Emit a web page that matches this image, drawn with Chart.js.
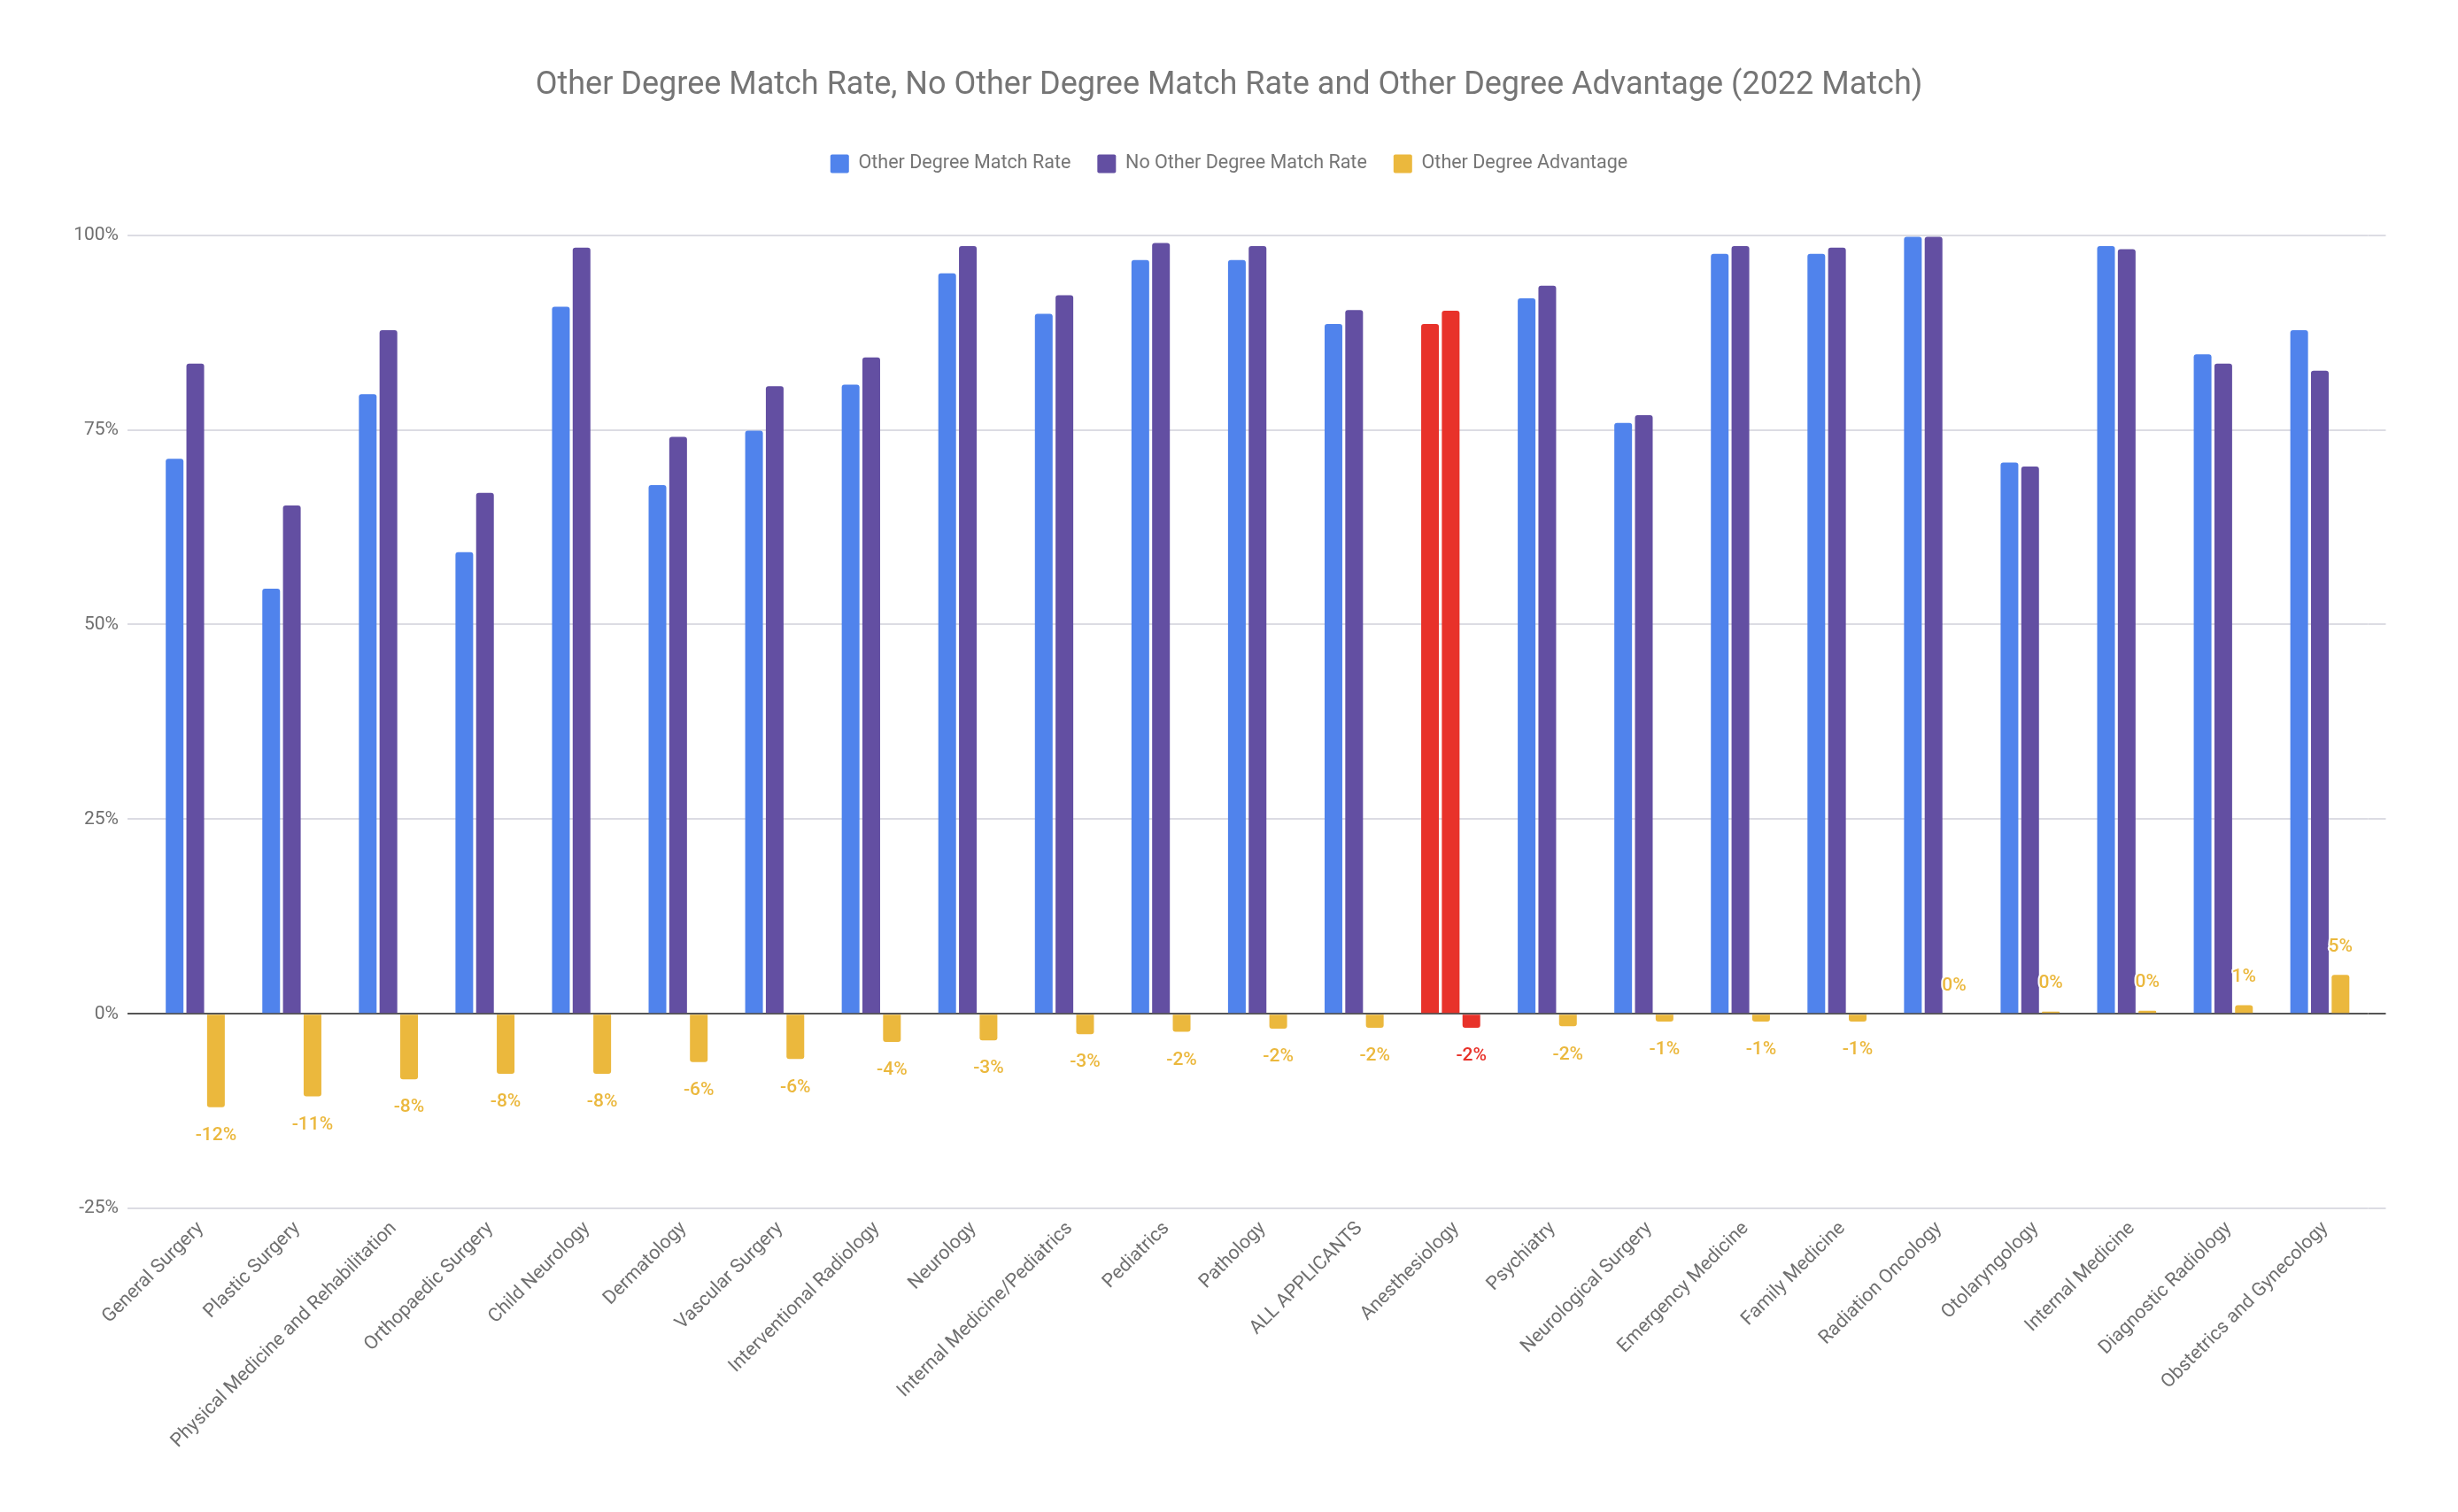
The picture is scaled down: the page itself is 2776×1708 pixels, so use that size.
<!DOCTYPE html>
<html>
<head>
<meta charset="utf-8">
<script src="https://cdn.jsdelivr.net/npm/chart.js@4.4.0/dist/chart.umd.min.js"></script>
<style>
  html, body { margin: 0; padding: 0; background: #fff; }
  #wrap { width: 2776px; height: 1708px; }
</style>
</head>
<body>
<div id="wrap"><canvas id="chart" width="2776" height="1708"></canvas></div>
<script>
const categories = [
  "General Surgery", "Plastic Surgery", "Physical Medicine and Rehabilitation",
  "Orthopaedic Surgery", "Child Neurology", "Dermatology", "Vascular Surgery",
  "Interventional Radiology", "Neurology", "Internal Medicine/Pediatrics",
  "Pediatrics", "Pathology", "ALL APPLICANTS", "Anesthesiology", "Psychiatry",
  "Neurological Surgery", "Emergency Medicine", "Family Medicine",
  "Radiation Oncology", "Otolaryngology", "Internal Medicine",
  "Diagnostic Radiology", "Obstetrics and Gynecology"
];

const otherDegreeRate = [
  71.3, 54.6, 79.6, 59.3, 90.8, 67.9, 74.9, 80.8, 95.1, 89.9, 96.8, 96.8,
  88.6, 88.6, 91.9, 75.9, 97.6, 97.6, 99.8, 70.8, 98.6, 84.7, 87.8
];

const noOtherDegreeRate = [
  83.5, 65.3, 87.8, 66.9, 98.4, 74.1, 80.6, 84.3, 98.6, 92.3, 99.0, 98.6,
  90.4, 90.3, 93.5, 76.9, 98.6, 98.4, 99.8, 70.3, 98.2, 83.5, 82.6
];

const otherDegreeAdvantage = [
  -12.0, -10.6, -8.4, -7.7, -7.7, -6.2, -5.8, -3.6, -3.4, -2.6, -2.3, -1.9,
  -1.8, -1.8, -1.6, -1.0, -1.0, -1.0, 0.0, 0.3, 0.4, 1.1, 5.0
];

const yTicks = [-25, 0, 25, 50, 75, 100];

const highlight = categories.indexOf("Anesthesiology");
const BLUE = "#5083ec", PURPLE = "#634fa2", GOLD = "#ebb83d", RED = "#e8322a";
const pick = (base) => (ctx) => ctx.dataIndex === highlight ? RED : base;

// labels on the advantage bars
const advantageLabels = {
  id: "advantageLabels",
  afterDatasetsDraw(chart) {
    const ctx = chart.ctx;
    const meta = chart.getDatasetMeta(2);
    ctx.save();
    ctx.font = "500 21px Roboto";
    ctx.textAlign = "center";
    ctx.textBaseline = "middle";
    ctx.lineJoin = "round";
    meta.data.forEach((bar, i) => {
      const v = otherDegreeAdvantage[i];
      const txt = Math.round(v) + "%";
      const y = v < 0 ? bar.y + 32 : bar.y - 32;
      ctx.strokeStyle = "#fff";
      ctx.lineWidth = 4;
      ctx.strokeText(txt, bar.x, y);
      ctx.fillStyle = i === highlight ? RED : GOLD;
      ctx.fillText(txt, bar.x, y);
    });
    ctx.restore();
  }
};

// gridlines run a little past the last category on the right
const gridTail = {
  id: "gridTail",
  beforeDatasetsDraw(chart) {
    const {ctx, chartArea, scales} = chart;
    ctx.save();
    yTicks.forEach(v => {
      const y = Math.round(scales.y.getPixelForValue(v));
      ctx.strokeStyle = v === 0 ? "#555" : "#dcdce3";
      ctx.lineWidth = 2;
      ctx.beginPath();
      ctx.moveTo(chartArea.right, y);
      ctx.lineTo(chartArea.right + 20, y);
      ctx.stroke();
    });
    ctx.restore();
  }
};

// extra room under the legend
const legendSpace = {
  id: "legendSpace",
  beforeInit(chart) {
    const fit = chart.legend.fit;
    chart.legend.fit = function () {
      fit.bind(chart.legend)();
      this.height += 60;
    };
  }
};

Chart.defaults.font.family = "Roboto";
Chart.defaults.color = "#6f6f6f";

new Chart(document.getElementById("chart").getContext("2d"), {
  type: "bar",
  data: {
    labels: categories,
    datasets: [
      { label: "Other Degree Match Rate", data: otherDegreeRate, backgroundColor: pick(BLUE) },
      { label: "No Other Degree Match Rate", data: noOtherDegreeRate, backgroundColor: pick(PURPLE) },
      { label: "Other Degree Advantage", data: otherDegreeAdvantage, backgroundColor: pick(GOLD) }
    ]
  },
  options: {
    responsive: false,
    animation: false,
    layout: { padding: { top: 0, left: 82, right: 82, bottom: 65 } },
    datasets: {
      bar: { categoryPercentage: 0.642, barPercentage: 0.857, borderRadius: 3, borderWidth: 0 }
    },
    scales: {
      x: {
        grid: { display: false },
        border: { display: false },
        ticks: {
          autoSkip: false, minRotation: 45, maxRotation: 45,
          padding: 2, labelOffset: 6,
          font: { size: 21.5 }, color: "#6f6f6f"
        }
      },
      y: {
        min: -25,
        max: 100,
        border: { display: false },
        grid: {
          color: c => c.tick && c.tick.value === 0 ? "#555" : "#dcdce3",
          lineWidth: 2,
          tickLength: 22
        },
        ticks: { stepSize: 25, padding: 10, font: { size: 21 }, color: "#6f6f6f", callback: v => v + "%" },
        afterFit: s => { s.width = 84; }
      },
      // empty spacer on the right so the plot matches the original margins
      yRight: {
        position: "right",
        grid: { display: false },
        border: { display: false },
        ticks: { display: false },
        afterFit: s => { s.width = 19.5; }
      }
    },
    plugins: {
      title: {
        display: true,
        text: "Other Degree Match Rate, No Other Degree Match Rate and Other Degree Advantage (2022 Match)",
        color: "#757575",
        font: { size: 36, weight: "normal" },
        padding: { top: 75, bottom: 26 }
      },
      legend: {
        labels: {
          color: "#757575",
          font: { size: 21.5 },
          boxWidth: 21,
          boxHeight: 21,
          padding: 30,
          useBorderRadius: true,
          borderRadius: 2
        }
      },
      tooltip: { enabled: false }
    }
  },
  plugins: [advantageLabels, gridTail, legendSpace]
});
</script>
</body>
</html>
